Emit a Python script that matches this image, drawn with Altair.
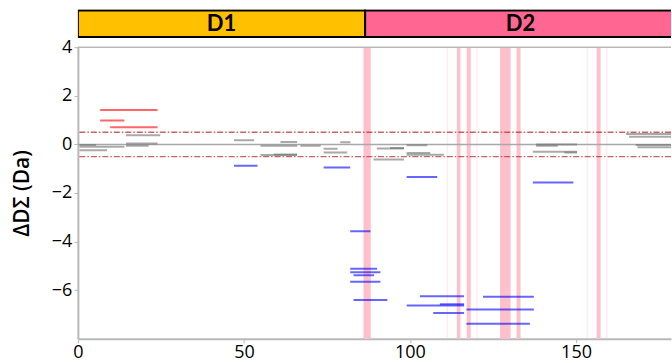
import altair as alt
import pandas as pd

# ---- data ----
# gray peptides (|ΔD| small)
gray_start = [0.5, 0.5, 0.5, 14.5, 14.5, 14.5, 47, 55, 61, 55, 59, 67, 74, 74, 79, 90, 94, 89, 99, 99, 99, 138, 138, 137, 146.5, 165, 166, 168, 168.5]
gray_end   = [5.5, 14, 8.8, 24.8, 24, 21.3, 53.1, 66, 66, 66, 66, 73.1, 78.2, 81.1, 82.1, 98.2, 98.2, 98.2, 105.2, 106.1, 110.2, 150.3, 144.5, 150.3, 150.3, 179, 179, 179, 179]
gray_y     = [-0.03, -0.10, -0.24, 0.38, 0.04, -0.06, 0.17, -0.06, 0.10, -0.44, -0.42, -0.06, -0.18, -0.33, 0.09, -0.17, -0.15, -0.62, -0.04, -0.35, -0.43, 0.0, -0.06, -0.30, -0.33, 0.43, 0.31, -0.03, -0.12]

# red peptides (ΔD > 0.5)
red_start = [6.7, 6.7, 9.7]
red_end   = [24.0, 14.0, 24.0]
red_y     = [1.42, 0.98, 0.71]

# blue peptides (ΔD < -0.5)
blue_start = [47, 74, 99, 137, 82, 82, 82, 83, 82, 83, 103, 99, 109, 107, 122, 117, 117]
blue_end   = [54.1, 82, 108.2, 149.2, 88.1, 90.1, 91.1, 89.2, 91.1, 93.2, 116.3, 116.3, 116.3, 116.3, 137.3, 137.3, 136.1]
blue_y     = [-0.88, -0.95, -1.34, -1.57, -3.57, -5.12, -5.26, -5.39, -5.65, -6.40, -6.25, -6.63, -6.58, -6.94, -6.27, -6.80, -7.38]

# highlighted residues (pink bands)
band_start = [86.0, 111.0, 114.1, 117.1, 120.0, 127.1, 132.1, 153.2, 156.2, 159.0]
band_end   = [88.2, 111.5, 115.2, 118.3, 120.4, 130.3, 133.3, 153.6, 157.4, 159.5]
band_alpha = [1.0, 0.3, 1.0, 1.0, 0.3, 1.0, 1.0, 0.3, 1.0, 0.3]

# domains banner
dom_names = ["D1", "D2"]
dom_start = [0, 86.5]
dom_end   = [86.5, 180]
dom_mid   = [43.25, 133.3]
dom_color = ["#FFC000", "#FF6692"]

threshold_vals = [0.5, -0.5]
x_ticks = [0, 50, 100, 150]
y_ticks = [-6, -4, -2, 0, 2, 4]

# ---- tables ----
seg = pd.concat([
    pd.DataFrame({"start": gray_start, "end": gray_end, "y": gray_y, "kind": "gray"}),
    pd.DataFrame({"start": red_start, "end": red_end, "y": red_y, "kind": "red"}),
    pd.DataFrame({"start": blue_start, "end": blue_end, "y": blue_y, "kind": "blue"}),
], ignore_index=True)
bands = pd.DataFrame({"start": band_start, "end": band_end, "op": band_alpha})
doms = pd.DataFrame({"name": dom_names, "start": dom_start, "end": dom_end, "mid": dom_mid, "color": dom_color})

W = 594
xscale = alt.Scale(domain=[0, 178.6], nice=False, zero=False)
yscale = alt.Scale(domain=[-8, 4], nice=False, zero=False)
xaxis = alt.Axis(values=x_ticks, title=None, labelFlush=False, labelPadding=1)
yaxis = alt.Axis(values=y_ticks, title="ΔDΣ (Da)", titlePadding=19, labelPadding=2)


def Y(field="y:Q"):
    return alt.Y(field, scale=yscale, axis=yaxis)


band_layer = alt.Chart(bands).mark_rect(color="#FFC0CB").encode(
    x=alt.X("start:Q", scale=xscale, axis=xaxis),
    x2="end:Q",
    opacity=alt.Opacity("op:Q", scale=None),
)
zero_layer = alt.Chart(pd.DataFrame({"y": [0]})).mark_rule(
    color="#a8a8a8", strokeWidth=1.5
).encode(y=Y())
top_layer = alt.Chart(pd.DataFrame({"y": [4]})).mark_rule(
    color="#b8b8b8", strokeWidth=1.5
).encode(y=Y())
thr_layer = alt.Chart(pd.DataFrame({"y": threshold_vals})).mark_rule(
    color="#B22222", strokeDash=[6, 2, 1.5, 2], strokeWidth=1.3, opacity=0.7
).encode(y=Y())
seg_layer = alt.Chart(seg).mark_rule(strokeWidth=2, clip=True, opacity=0.6).encode(
    x=alt.X("start:Q", scale=xscale, axis=xaxis),
    x2="end:Q",
    y=Y(),
    color=alt.Color("kind:N", scale=alt.Scale(domain=["gray", "red", "blue"],
                                              range=["#707070", "#FF0000", "#0000FF"]), legend=None),
)

main = alt.layer(band_layer, zero_layer, top_layer, thr_layer, seg_layer).properties(width=W, height=292)

bscale = alt.Scale(domain=[-0.05, 1.05], nice=False, zero=False)
banner_rect = alt.Chart(doms).mark_rect(stroke="black", strokeWidth=2, clip=True).encode(
    x=alt.X("start:Q", scale=xscale, axis=None),
    x2="end:Q",
    y=alt.Y("y0:Q", scale=bscale, axis=None),
    y2="y1:Q",
    color=alt.Color("color:N", scale=None),
).transform_calculate(y0="0", y1="1")
banner_text = alt.Chart(doms).mark_text(font="Lato", fontWeight="bold", fontSize=22, color="black").encode(
    x=alt.X("mid:Q", scale=xscale, axis=None),
    y=alt.Y("y:Q", scale=bscale, axis=None),
    text="name:N",
).transform_calculate(y="0.5")
banner = alt.layer(banner_rect, banner_text).properties(width=W, height=29)

chart = alt.vconcat(banner, main, spacing=9, bounds="flush").properties(
    padding={"left": 11, "top": 9, "right": 0, "bottom": 0}
).configure_view(stroke=None).configure_axis(
    labelFont="Open Sans", labelFontSize=18, labelColor="black",
    titleFont="Open Sans", titleFontSize=21, titleFontWeight=600, titleColor="black",
    domainColor="#b8b8b8", domainWidth=2, tickColor="#b8b8b8", tickSize=4, tickWidth=1,
    grid=False,
)

chart.save("out.html", embed_options={"renderer": "svg", "actions": False})
